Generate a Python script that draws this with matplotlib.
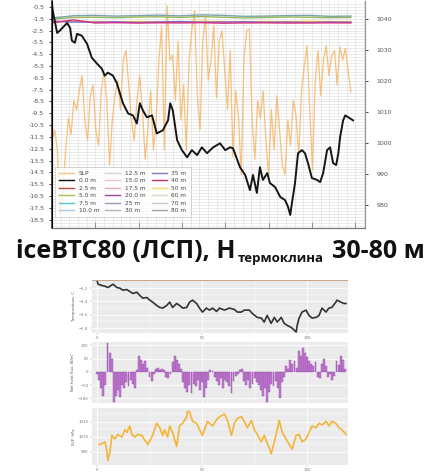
import numpy as np
import matplotlib
matplotlib.use('Agg')
import matplotlib.pyplot as plt
from matplotlib.lines import Line2D

# ---- top chart: buoy record ----
slp_t = [0.00, 0.02, 0.12, 0.18, 0.35, 0.42, 0.46, 0.53, 0.58, 0.69, 0.81, 0.92, 1.04, 1.15,
         1.22, 1.29, 1.41, 1.50, 1.57, 1.64, 1.76, 1.87, 1.96, 2.03, 2.10, 2.19, 2.31, 2.42,
         2.56, 2.68, 2.73, 2.79, 2.89, 3.00, 3.12, 3.23, 3.35, 3.46, 3.58, 3.72, 3.88, 4.00,
         4.11, 4.18, 4.34, 4.46, 4.57, 4.64, 4.73, 4.80, 4.87, 4.97, 5.03, 5.15, 5.27, 5.38,
         5.45, 5.50, 5.54, 5.61, 5.68, 5.77, 5.84, 5.91, 6.00, 6.12, 6.19, 6.26, 6.35, 6.42,
         6.49, 6.56, 6.61, 6.65, 6.72, 6.77, 6.84, 6.95]
slp_hpa = [1044.8, 1042.6, 1035.5, 1036.2, 1038.7, 1037.1, 1033.0, 1032.3, 1035.2, 1034.6,
           1032.0, 1027.5, 1025.6, 1024.0, 1021.7, 1022.7, 1021.7, 1019.2, 1016.0, 1012.8,
           1009.5, 1008.9, 1006.3, 1012.8, 1010.5, 1008.3, 1008.9, 1003.1, 1004.1, 1007.3,
           1012.8, 1010.5, 1000.9, 997.7, 995.4, 997.7, 996.1, 998.6, 996.7, 998.6, 999.9,
           997.7, 998.6, 998.3, 992.2, 989.7, 984.8, 989.7, 983.9, 992.2, 988.1, 990.3, 987.1,
           985.8, 982.6, 981.6, 979.4, 976.8, 980.7, 987.1, 996.7, 997.7, 996.7, 993.5, 988.7,
           988.1, 987.4, 990.3, 997.7, 998.6, 993.5, 992.9, 996.7, 1001.8, 1007.3, 1008.9,
           1008.3, 1007.3]

air_temp = [-11.8, -10.9, -12.6, -18.1, -16.4, -12.6, -9.9, -11.3, -8.4, -9.2, -7.6, -6.3,
            -10.1, -11.8, -8.0, -7.1, -10.9,
            -12.2, -7.6, -5.9, -8.4, -13.9, -10.1, -8.0, -6.7, -9.2, -5.0, -4.2, -7.1, -10.1,
            -11.8, -8.4, -6.3, -9.2, -13.4, -10.9, -7.6, -12.6, -10.1,
            -5.0, -2.1, -12.6, -0.4, -5.0, -4.6, -8.4, -3.4, -10.1, -7.1, -12.6, -5.0, -2.5,
            -0.8, -8.0, -10.9, -3.4, -1.3, -6.7,
            -5.0, -2.1, -8.2, -3.4, -2.5, -5.9, -9.2, -4.2, -13.2, -7.6, -9.7, -14.7, -5.0,
            -2.5, -2.4, -10.1, -13.4, -8.4,
            -9.9, -7.6, -11.8, -14.7, -9.2, -12.6, -8.0, -10.9, -13.9, -14.7, -10.1, -12.2,
            -8.4, -9.7, -13.0,
            -7.6, -5.5, -3.8, -9.2, -14.3, -6.7, -4.2, -8.0, -5.0, -3.8, -6.3, -4.6, -4.2,
            -7.1, -3.9, -5.0, -4.0, -5.9, -7.7]

t_80m = [-1.45, -1.25, -1.22, -1.28, -1.24, -1.20, -1.26, -1.18, -1.22, -1.30, -1.28, -1.24, -1.22, -1.30, -1.28]
t_60m = [-1.55, -1.40, -1.38, -1.42, -1.36, -1.34, -1.40, -1.32, -1.38, -1.44, -1.40, -1.36, -1.38, -1.42, -1.40]
t_50m = [-1.80, -1.72, -1.75, -1.78, -1.74, -1.76, -1.80, -1.72, -1.75, -1.78, -1.74, -1.76, -1.72, -1.75, -1.74]
t_35m = [-1.70, -1.78, -1.80, -1.76, -1.82, -1.78, -1.74, -1.80, -1.78, -1.76, -1.80, -1.78, -1.82, -1.78, -1.80]
t_40m = [-1.85, -1.60, -1.86, -1.84, -1.87, -1.85, -1.86, -1.84, -1.88, -1.86, -1.85, -1.87, -1.86, -1.85, -1.86]

legend_labels = ['SLP', '0.0 m', '2.5 m', '5.0 m', '7.5 m', '10.0 m',
                 '12.5 m', '15.0 m', '17.5 m', '20.0 m', '25 m', '30 m',
                 '35 m', '40 m', '50 m', '60 m', '70 m', '80 m']
legend_colors = ['#f5c88a', '#111111', '#c84a3a', '#a8c050', '#50c8d0', '#a8cce8',
                 '#d4d4d4', '#f0c4d4', '#e8a4cc', '#a040a8', '#a898b8', '#b4b4b4',
                 '#9070b8', '#c83078', '#f0e060', '#dcdcc4', '#c4ccd4', '#a4a4a4']

# ---- bottom panels ----
temp_t = [0, 0.5, 2.4, 3.8, 5.2, 7.6, 9.5, 10.9, 12.3, 14.2, 15.6, 17.1, 19.0, 20.4, 21.8, 23.7,
          25.1, 26.5, 28.4, 29.9, 31.3, 33.2, 34.6, 36.0, 37.9, 39.3, 40.8, 42.7, 44.1, 45.5,
          47.4, 48.8, 50.2, 52.1, 53.6, 55.0, 56.9, 58.3, 60.7, 63.0, 65.4, 66.8, 68.7, 70.1,
          72.5, 73.9, 76.3, 78.2, 79.6, 81.0, 82.9, 84.4, 85.8, 87.7, 89.1, 90.5, 92.4, 93.8,
          94.8, 95.3, 96.2, 97.6, 99.5, 100.9, 102.4, 104.3, 105.7, 107.1, 109.0, 110.4,
          111.8, 113.7, 114.2, 116.1, 117.5, 118.5]
temp_c = [-1.08, -1.14, -1.16, -1.17, -1.19, -1.14, -1.19, -1.20, -1.23, -1.22, -1.25, -1.28,
          -1.26, -1.31, -1.35, -1.34, -1.38, -1.41, -1.46, -1.49, -1.50, -1.46, -1.41, -1.49,
          -1.43, -1.46, -1.50, -1.49, -1.41, -1.38, -1.43, -1.50, -1.56, -1.50, -1.53, -1.50,
          -1.55, -1.50, -1.53, -1.50, -1.52, -1.56, -1.56, -1.53, -1.53, -1.58, -1.64, -1.65,
          -1.71, -1.61, -1.73, -1.64, -1.71, -1.64, -1.73, -1.76, -1.79, -1.83, -1.86, -1.76,
          -1.65, -1.56, -1.53, -1.61, -1.65, -1.64, -1.61, -1.50, -1.56, -1.50, -1.49, -1.41,
          -1.38, -1.41, -1.43, -1.43]

heat_flux = [-10, -30, -60, -90, -50, 110, 70, 50, -115, -90, -70, -95,
             -50, -60, -40, -55, -30, -45, -60, 5, 60, 45, 30, 40, 15,
             -20, -35, -10, 10, 15, 5, 12, 8, -20, -25, -10, 35, 60, 45, 30, 10,
             -40, -60, -75, -50, -80, -45, -55, -30, -70, -40, -95, -60, -30, 5, 3,
             -20, -35, -50, -25, -60, -30, -40, -55, -80, -35, -15, -10, 8, 12,
             -35, -50, -30, -60, -45, -25, -40, -50, -70, -90, -60, -115, -75, -45, -55,
             -35, -60, -100, -40, -20, 20, 10, 45, 30, 40, 15, 80, 60, 90, 70, 55, 40,
             30, 20, 35, -20, -25, 30, 50, 20, -20, -10, -30, -15, 40, 25, 60, 45, 10]

slp2_t = [0.9, 2.4, 3.8, 4.7, 5.2, 6.2, 7.1, 8.5, 10.0, 11.8, 13.3, 14.2, 15.6, 16.6, 18.0,
          19.4, 21.3, 22.7, 24.2, 26.5, 28.4, 29.9, 31.3, 32.2, 33.6, 34.6, 36.0, 37.9, 39.3,
          40.8, 42.7, 43.1, 44.1, 45.5, 47.4, 48.8, 50.2, 52.6, 55.0, 57.3, 59.2, 60.7, 62.1,
          64.0, 65.4, 66.8, 68.7, 70.1, 71.6, 73.5, 74.9, 76.3, 78.2, 79.6, 82.0, 82.9, 84.4,
          85.8, 86.7, 88.2, 90.0, 91.5, 92.9, 94.8, 96.2, 97.6, 99.5, 100.9, 102.4, 104.3,
          105.7, 107.1, 109.0, 110.4, 111.8, 113.7, 115.2, 116.6, 118.5]
slp2_hpa = [999.4, 1000.6, 1003.1, 990.6, 978.1, 990.6, 1011.9, 1006.9, 1013.1, 1009.4, 1019.4,
            1015.6, 1024.4, 1013.1, 1009.4, 1013.1, 1011.9, 1005.6, 999.4, 1011.9, 1028.1,
            1021.9, 1011.9, 1019.4, 1009.4, 1024.4, 1015.6, 996.9, 1024.4, 1028.1, 1036.9,
            1044.4, 1043.1, 1030.6, 1028.1, 1019.4, 1011.9, 1030.6, 1024.4, 1034.4, 1038.1,
            1040.6, 1031.9, 1011.9, 1028.1, 1034.4, 1036.9, 1030.6, 1021.9, 1031.9, 1019.4,
            1013.1, 1003.1, 1011.9, 994.4, 986.9, 1003.1, 1019.4, 1031.9, 1015.6, 1006.9,
            999.4, 993.1, 1011.9, 1013.1, 1003.1, 1006.9, 1015.6, 1024.4, 1021.9, 1028.1,
            1025.6, 1030.6, 1024.4, 1030.6, 1028.1, 1021.9, 1019.4, 1013.1]

fig = plt.figure(figsize=(4.4, 4.74), dpi=100)

# Top chart with twin axis
ax = fig.add_axes([0.118, 0.519, 0.712, 0.479])
ax2 = ax.twinx()
tgrid = np.linspace(0, 6.9, len(air_temp))
tdeep = np.linspace(0, 6.9, len(t_80m))
ax.plot(tgrid, air_temp, color='#f5b35e', lw=0.9, alpha=0.8)
for vals, c in [(t_80m, '#78a4a8'), (t_60m, '#98b860'), (t_50m, '#f0d040'),
                (t_35m, '#8064c0'), (t_40m, '#d03088')]:
    ax.plot(tdeep, vals, color=c, lw=1.0)
ax2.plot(slp_t, slp_hpa, color='#161616', lw=1.4)

ax.set_xlim(0, 7.23)
ax.set_ylim(-19.2, 0.0)
ax2.set_ylim(972.6, 1045.8)
ax.set_xticks(range(8))
ax.set_xticklabels([])
ax.set_xticks(np.arange(0, 7.23, 0.2), minor=True)
ax.set_yticks(np.arange(-18.5, 0, 1))
ax.set_yticklabels([f'{v:.1f}' for v in np.arange(-18.5, 0, 1)])
ax.set_yticks(np.arange(-19, 0, 0.25), minor=True)
ax.grid(which='both', color='#cccccc', lw=0.4, ls=(0, (2, 1)))
ax.tick_params(axis='y', labelsize=4.5, labelcolor='#555555', length=2, width=0.5)
ax.tick_params(axis='x', direction='in', length=4, width=0.6, color='#777777')
ax.tick_params(which='minor', length=0)
ax2.set_yticks(range(980, 1041, 10))
ax2.tick_params(axis='y', labelsize=4.5, labelcolor='#555555', length=2, width=0.5, pad=6)
for a in (ax, ax2):
    a.spines['top'].set_visible(False)
    a.spines['right'].set_color('#999999')
    a.spines['bottom'].set_color('#777777')
ax.spines['left'].set_color('#333333')
ax.spines['left'].set_linewidth(1.2)

handles = [Line2D([0], [0], color=c, lw=1.0) for c in legend_colors]
leg = ax.legend(handles, legend_labels, ncol=3, loc='lower left', bbox_to_anchor=(0.0, 0.035),
                fontsize=4.2, frameon=True, fancybox=False, framealpha=0.8, edgecolor='#bbbbbb',
                handlelength=2.6, columnspacing=1.0, labelspacing=0.4, borderpad=0.7)
leg.get_frame().set_linewidth(0.5)
for txt in leg.get_texts():
    txt.set_color('#444444')

# Title in three pieces (subscript)
tfont = ['Open Sans', 'Lato', 'DejaVu Sans']
fig.canvas.draw()
r = fig.canvas.get_renderer()
base_y = 1 - 258 / 474
t1 = fig.text(16 / 440, base_y, 'iceBTC80 (ЛСП), H', fontsize=18, fontweight='bold',
              family=tfont, va='baseline', ha='left', color='#111111')
w1 = t1.get_window_extent(r).x1 / fig.bbox.width
t2 = fig.text(w1 + 2 / 440, base_y - 4 / 474, 'термоклина', fontsize=9.5, fontweight='bold',
              family=tfont, va='baseline', ha='left', color='#111111')
w2 = t2.get_window_extent(r).x1 / fig.bbox.width
fig.text(w2 + 8 / 440, base_y, '30-80 м', fontsize=18, fontweight='bold',
         family=tfont, va='baseline', ha='left', color='#111111')


def gg_panel(rect, ylabel, yticks, show_x):
    p = fig.add_axes(rect)
    p.set_facecolor('#ebebeb')
    for s in p.spines.values():
        s.set_visible(False)
    p.set_axisbelow(True)
    p.grid(which='major', color='white', lw=0.6)
    p.grid(which='minor', color='white', lw=0.3)
    p.set_xlim(-2.4, 119.5)
    p.set_xticks([0, 50, 100])
    p.set_xticks([25, 75], minor=True)
    p.set_yticks(yticks)
    p.tick_params(labelsize=2.8, labelcolor='#777777', length=1.5, width=0.3, color='#999999', pad=1)
    p.tick_params(which='minor', length=0)
    if not show_x:
        p.set_xticklabels([])
        p.tick_params(axis='x', length=0)
    p.set_ylabel(ylabel, fontsize=2.8, color='#555555', labelpad=2)
    return p


p1 = gg_panel([0.209, 0.2975, 0.582, 0.112], 'Temperature, C', [-1.2, -1.4, -1.6, -1.8], True)
p1.plot(temp_t, temp_c, color='#333333', lw=1.2)
p1.set_ylim(-1.875, -1.075)
p1.set_yticks([-1.3, -1.5, -1.7], minor=True)
p1.axhline(-1.075, color='#c8a888', lw=0.8)

p2 = gg_panel([0.209, 0.150, 0.582, 0.129], 'Net heat flux, W/m²', [-100, -50, 0, 50, 100], False)
p2.bar(np.arange(len(heat_flux)), heat_flux, width=0.9, color='#c57ad6', edgecolor='#8a4a9c', lw=0.3)
p2.set_ylim(-117, 113)

p3 = gg_panel([0.209, 0.019, 0.582, 0.121], 'SLP, hPa', [990, 1010, 1030], True)
p3.plot(slp2_t, slp2_hpa, color='#f4b538', lw=1.2)
p3.set_ylim(972, 1049)
p3.set_yticks([1000, 1020, 1040], minor=True)

fig.savefig('out.png', dpi=100)
